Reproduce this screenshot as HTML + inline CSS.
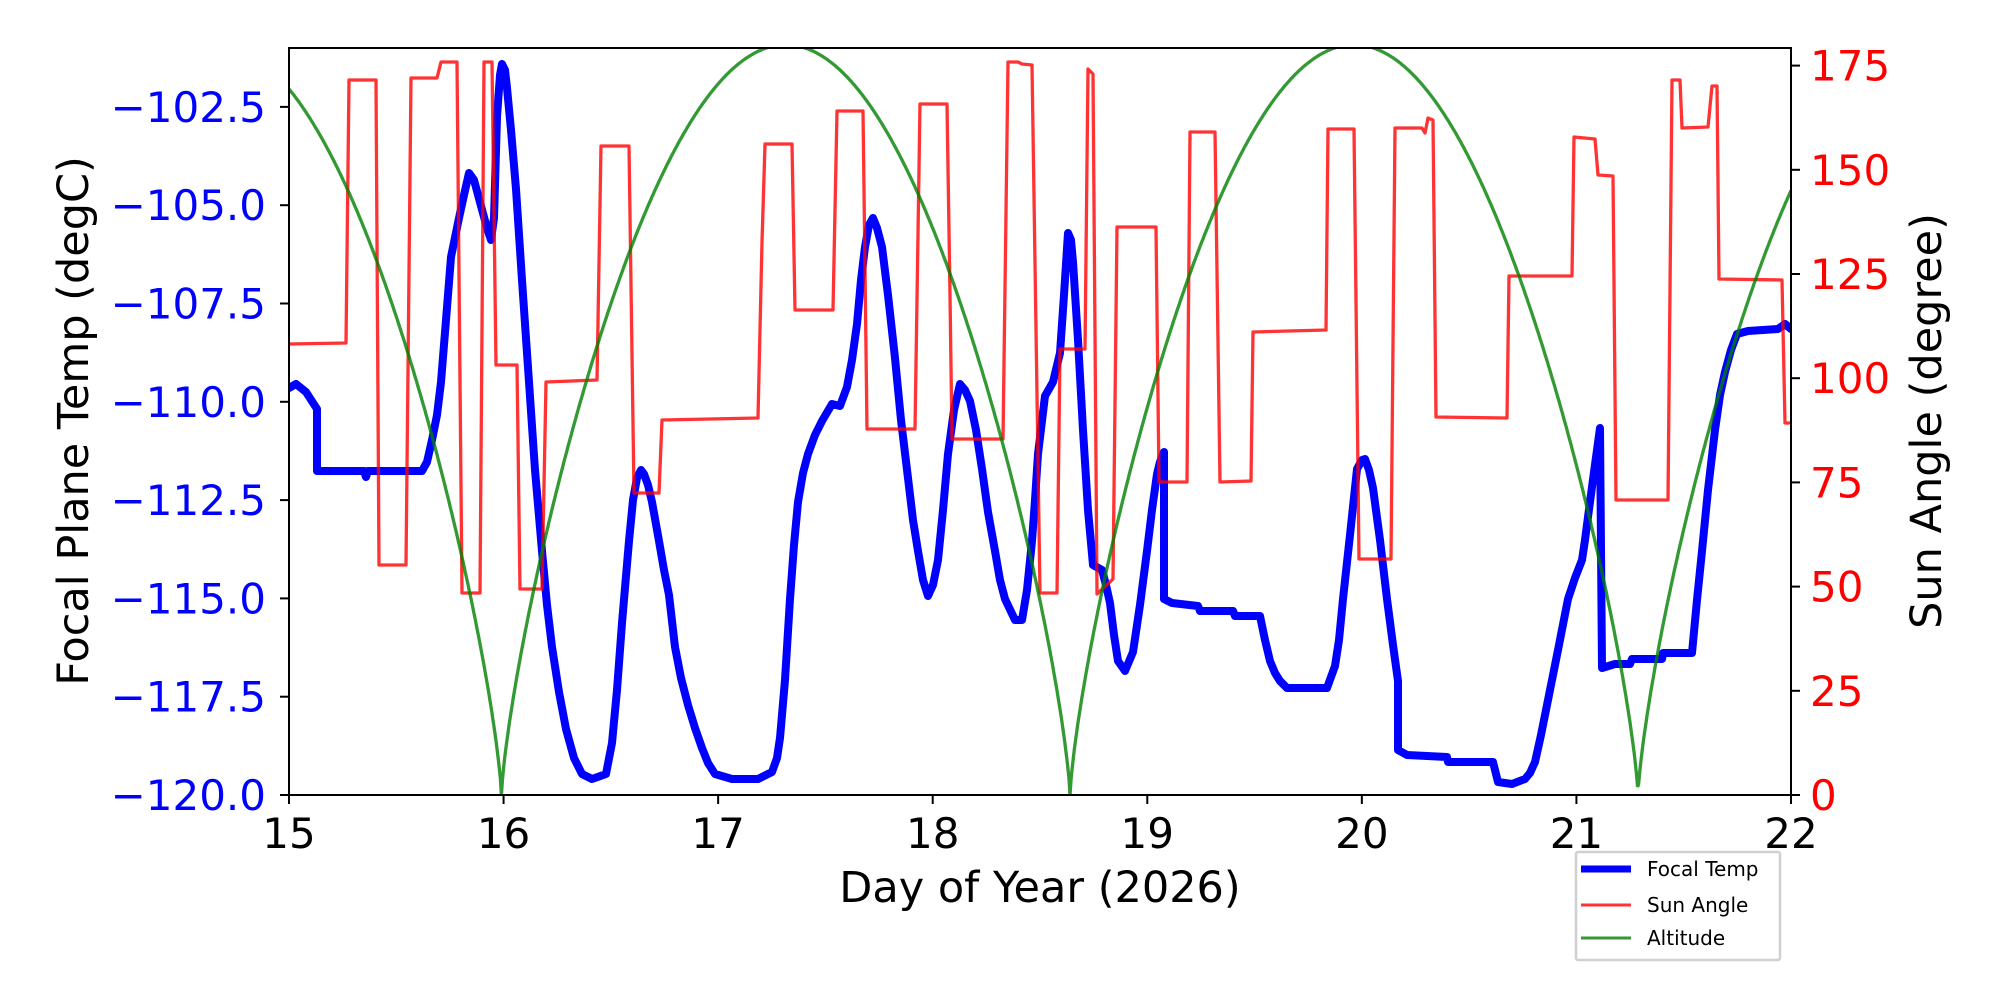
<!DOCTYPE html>
<html><head><meta charset="utf-8"><style>
html,body{margin:0;padding:0;background:#fff;}
svg{display:block;}
text{font-family:"DejaVu Sans","Liberation Sans",sans-serif;}
</style></head><body>
<svg id="s" width="2000" height="1000" viewBox="0 0 2000 1000" xmlns="http://www.w3.org/2000/svg">
<rect width="2000" height="1000" fill="#fff"/>
<g id="plot"></g>
<g id="axes"></g>
</svg>
<script>
const NS="http://www.w3.org/2000/svg";
const L=289,R=1791,T=48,B=795;
const plot=document.getElementById('plot'),axes=document.getElementById('axes');
function el(p,tag,attrs,txt){const e=document.createElementNS(NS,tag);for(const k in attrs)e.setAttribute(k,attrs[k]);if(txt!==undefined)e.textContent=txt;p.appendChild(e);return e;}
const xd=d=>L+(d-15)*214.57;
const yt=v=>B-(v+120)*39.32;
const ys=v=>B-v*4.168;
function pts(a){let s='';for(let i=0;i<a.length;i+=2)s+=(i?'L':'M')+a[i]+' '+a[i+1];return s;}
const defs=el(document.getElementById('s'),'defs',{});
const cp=el(defs,'clipPath',{id:'c'});el(cp,'rect',{x:L,y:T,width:R-L,height:B-T});
const g=el(plot,'g',{'clip-path':'url(#c)'});
const blue=[289,388,296,384,306,392,317,409,317,471,364,471,366,477,368,471,422,471,427,462,432,440,437,415,441,382,446,320,451,257,459,218,464,195,469,173,474,180,481,206,487,228,491,240,494,218,497,117,500,75,502,64,505,70,507,88,511,130,516,189,522,280,529,382,535,470,542,551,547,605,552,647,559,692,566,729,574,758,582,774,592,779,606,774,612,743,617,690,622,623,629,541,633,500,637,478,641,470,644,474,648,485,652,502,659,541,664,570,669,595,675,647,681,678,688,705,695,728,702,748,708,763,715,774,732,779,758,779,772,772,777,758,780,738,785,680,790,599,794,545,798,502,803,473,808,454,815,435,822,421,832,404,840,406,847,387,852,360,857,324,861,280,865,247,869,225,873,218,877,228,882,247,888,295,895,358,901,420,908,478,913,520,918,551,923,580,928,596,933,585,938,560,943,510,948,454,954,410,960,384,965,390,970,401,976,430,982,469,988,512,995,551,1000,580,1005,599,1015,620,1022,620,1027,590,1032,541,1035,500,1038,454,1045,396,1053,382,1060,353,1064,295,1068,233,1071,240,1073,262,1078,340,1083,430,1088,510,1093,565,1102,570,1106,585,1110,603,1114,635,1118,661,1125,671,1133,652,1140,605,1147,551,1152,510,1157,474,1160,462,1164,452,1164,599,1172,603,1198,606,1200,611,1233,611,1235,616,1260,616,1265,640,1270,661,1275,673,1280,681,1287,688,1327,688,1335,666,1339,640,1343,599,1350,535,1357,469,1362,460,1365,459,1369,470,1373,488,1380,540,1387,599,1393,645,1398,681,1398,750,1407,755,1447,757,1448,762,1493,762,1498,782,1512,784,1525,779,1530,773,1535,762,1541,735,1548,700,1558,650,1568,599,1575,578,1582,560,1585,540,1588,517,1594,472,1600,428,1602,668,1615,664,1630,664,1632,659,1662,659,1663,653,1692,653,1697,600,1702,551,1708,490,1715,430,1720,395,1725,372,1731,350,1737,334,1748,331,1778,329,1785,324,1791,329];
el(g,'path',{d:pts(blue),fill:'none',stroke:'#0000ff','stroke-width':8,'stroke-linejoin':'round','stroke-linecap':'round'});
const red=[289,344,346,343,349,80,376,80,379,565,406,565,411,78,437,78,441,62,457,62,462,593,480,593,484,62,492,62,496,365,517,365,520,589,542,589,546,382,597,380,601,146,629,146,634,493,659,493,662,420,758,418,762,242,765,144,792,144,795,310,833,310,837,111,863,111,867,429,915,429,920,104,947,104,950,295,952,439,1003,439,1008,62,1018,62,1022,64,1032,65,1040,593,1057,593,1060,349,1085,349,1088,69,1093,74,1097,594,1113,579,1117,227,1156,227,1159,482,1187,482,1190,132,1215,132,1220,482,1251,481,1253,332,1326,330,1328,129,1354,129,1359,559,1391,559,1395,128,1422,128,1425,133,1428,118,1433,120,1436,417,1507,418,1509,276,1572,276,1574,137,1595,139,1598,175,1613,176,1616,500,1668,500,1672,80,1680,80,1682,128,1708,127,1712,86,1717,86,1719,279,1782,280,1785,423,1791,423];
el(g,'path',{d:pts(red),fill:'none',stroke:'rgba(255,0,0,0.8)','stroke-width':3.3,'stroke-linejoin':'round'});
const zeros=[13.34,15.99,18.64,21.287,23.93];
let gp=[];
for(let d=15;d<=22.0001;d+=0.005){
  let i=0;while(i<zeros.length-2&&d>zeros[i+1])i++;
  const a=zeros[i],b=zeros[i+1];
  const s=Math.abs(Math.sin(Math.PI*(d-a)/(b-a)));
  gp.push(xd(d).toFixed(1),ys(180*Math.pow(s,0.75)).toFixed(1));
}
el(g,'path',{d:pts(gp),fill:'none',stroke:'rgba(0,128,0,0.8)','stroke-width':3.3});
el(axes,'rect',{x:L,y:T,width:R-L,height:B-T,fill:'none',stroke:'#000','stroke-width':2});
for(let k=0;k<8;k++){const v=-120+2.5*k;const y=yt(v);
 el(axes,'line',{x1:L-9,y1:y,x2:L,y2:y,stroke:'#000','stroke-width':2});
 el(axes,'text',{x:266,y:y+15,'text-anchor':'end','font-size':42,fill:'#0000ff'},'\u2212'+(-v).toFixed(1));}
for(let v=0;v<=175;v+=25){const y=ys(v);
 el(axes,'line',{x1:R,y1:y,x2:R+9,y2:y,stroke:'#000','stroke-width':2});
 el(axes,'text',{x:1810,y:y+15,'text-anchor':'start','font-size':42,fill:'#ff0000'},String(v));}
for(let d=15;d<=22;d++){const x=xd(d);
 el(axes,'line',{x1:x,y1:B,x2:x,y2:B+9,stroke:'#000','stroke-width':2});
 el(axes,'text',{x:x,y:848,'text-anchor':'middle','font-size':42,fill:'#000'},String(d));}
el(axes,'text',{x:1040,y:902,'text-anchor':'middle','font-size':43,fill:'#000'},'Day of Year (2026)');
el(axes,'text',{x:0,y:0,'text-anchor':'middle','font-size':43,fill:'#000',transform:'translate(88,421) rotate(-90)'},'Focal Plane Temp (degC)');
el(axes,'text',{x:0,y:0,'text-anchor':'middle','font-size':43,fill:'#000',transform:'translate(1941,421) rotate(-90)'},'Sun Angle (degree)');
el(axes,'rect',{x:1576,y:852,width:204,height:108,fill:'#fff',stroke:'#d0d0d0','stroke-width':2.5,rx:2});
const le=[['Focal Temp','#0000ff',7,869],['Sun Angle','rgba(255,0,0,0.8)',3,905],['Altitude','rgba(0,128,0,0.8)',3,938]];
for(const [t,c,w,y] of le){el(axes,'line',{x1:1581,y1:y,x2:1631,y2:y,stroke:c,'stroke-width':w});
 el(axes,'text',{x:1647,y:y+7,'font-size':20,fill:'#000'},t);}
</script>
</body></html>
